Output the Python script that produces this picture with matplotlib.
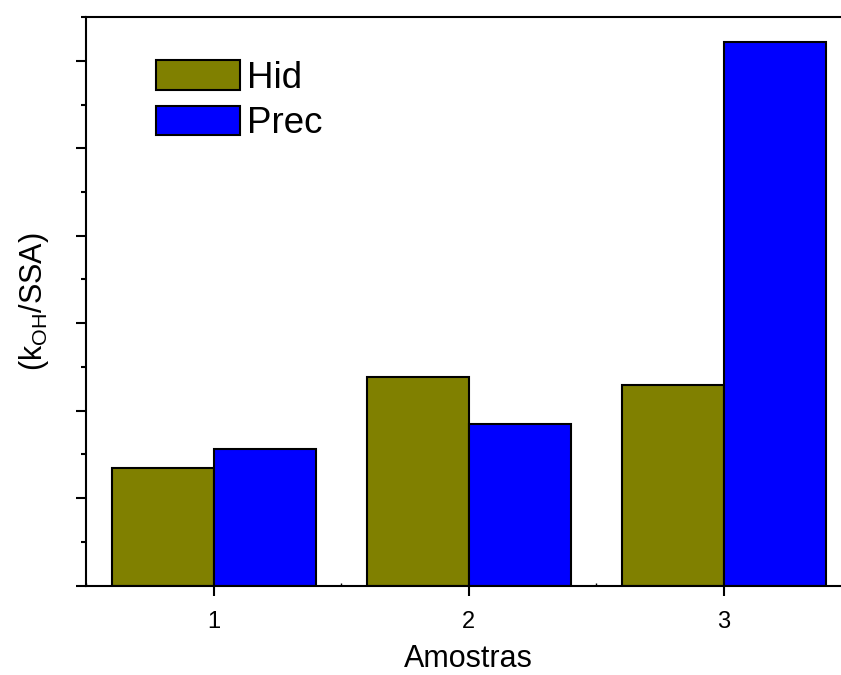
import numpy as np
import matplotlib.pyplot as plt
from matplotlib.ticker import MultipleLocator

plt.rcParams['font.family'] = ['Liberation Sans', 'DejaVu Sans']
plt.rcParams['mathtext.fontset'] = 'custom'
plt.rcParams['mathtext.rm'] = 'Liberation Sans'

amostras = [1, 2, 3]
hid = [1.35, 2.38, 2.29]
prec = [1.56, 1.85, 6.21]

fig = plt.figure(figsize=(8.41, 6.75), dpi=100)
ax = fig.add_axes([0.1023, 0.1323, 0.910, 0.8425])

x = np.array(amostras)
w = 0.4
ax.bar(x - w / 2, hid, w, color='#808000', edgecolor='black',
       linewidth=1.5, label='Hid')
ax.bar(x + w / 2, prec, w, color='#0000FF', edgecolor='black',
       linewidth=1.5, label='Prec')

ax.set_xlim(0.5, 3.5)
ax.set_ylim(0, 6.5)
ax.set_xticks(amostras)
ax.xaxis.set_minor_locator(MultipleLocator(0.5))
ax.yaxis.set_major_locator(MultipleLocator(1))
ax.yaxis.set_minor_locator(MultipleLocator(0.5))
ax.set_yticklabels([])

for s in ['left', 'bottom', 'top']:
    ax.spines[s].set_linewidth(1.5)
ax.spines['right'].set_visible(False)

ax.tick_params(axis='y', which='major', direction='out', length=7,
               width=1.5)
ax.tick_params(axis='y', which='minor', direction='out', length=3.5,
               width=1.5)
ax.tick_params(axis='x', which='major', direction='out', length=7,
               width=1.5, labelsize=17, pad=11)
ax.tick_params(axis='x', which='minor', direction='in', length=2.5,
               width=1)

ax.set_xlabel('Amostras', fontsize=22, labelpad=8)
ax.set_ylabel(r'(k$_{\mathrm{OH}}$/SSA)', fontsize=22, labelpad=15)

ax.legend(loc='upper left', bbox_to_anchor=(0.0725, 0.95), frameon=False,
          fontsize=26.5, handlelength=2.27, handleheight=0.85,
          labelspacing=0.28, handletextpad=0.2, borderaxespad=0)

fig.savefig('out.png', dpi=100)
